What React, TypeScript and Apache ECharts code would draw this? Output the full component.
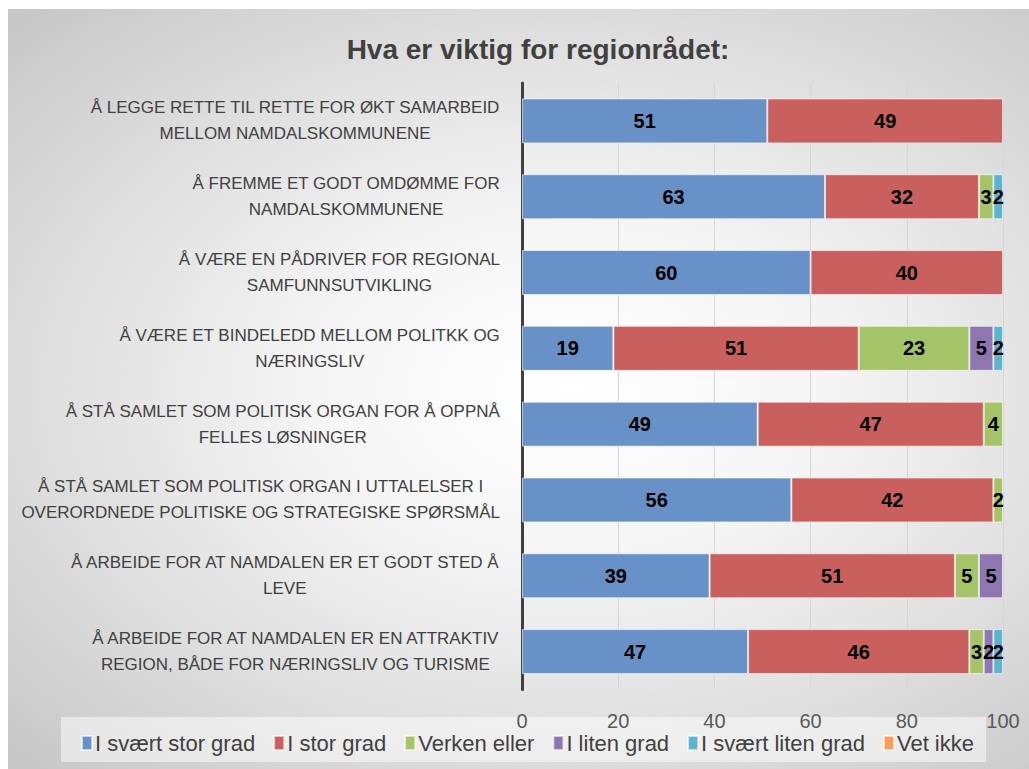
import React, { useEffect, useRef } from "react";
import * as echarts from "echarts";

const categories = [
  "Å LEGGE RETTE TIL RETTE FOR ØKT SAMARBEID\nMELLOM NAMDALSKOMMUNENE",
  "Å FREMME ET GODT OMDØMME FOR\nNAMDALSKOMMUNENE",
  "Å VÆRE EN PÅDRIVER FOR REGIONAL\nSAMFUNNSUTVIKLING",
  "Å VÆRE ET BINDELEDD MELLOM POLITKK OG\nNÆRINGSLIV",
  "Å STÅ SAMLET SOM POLITISK ORGAN FOR Å OPPNÅ\nFELLES LØSNINGER",
  "Å STÅ SAMLET SOM POLITISK ORGAN I UTTALELSER I\nOVERORDNEDE POLITISKE OG STRATEGISKE SPØRSMÅL",
  "Å ARBEIDE FOR AT NAMDALEN ER ET GODT STED Å\nLEVE",
  "Å ARBEIDE FOR AT NAMDALEN ER EN ATTRAKTIV\nREGION, BÅDE FOR NÆRINGSLIV OG TURISME",
];

const seriesNames = [
  "I svært stor grad",
  "I stor grad",
  "Verken eller",
  "I liten grad",
  "I svært liten grad",
  "Vet ikke",
];

const sværtStor = [51, 63, 60, 19, 49, 56, 39, 47];
const stor = [49, 32, 40, 51, 47, 42, 51, 46];
const verken = [0, 3, 0, 23, 4, 2, 5, 3];
const liten = [0, 0, 0, 5, 0, 0, 5, 2];
const sværtLiten = [0, 2, 0, 2, 0, 0, 0, 2];
const vetIkke = [0, 0, 0, 0, 0, 0, 0, 0];

const xTicks = { min: 0, max: 100, interval: 20 };

const colors = ["#6892c7", "#c9605e", "#a5c467", "#8e76b0", "#5cb4d0", "#f89c57"];

const FONT = "Liberation Sans";

export default function App() {
  const ref = useRef<HTMLDivElement>(null);
  useEffect(() => {
    if (!ref.current) return;
    const chart = echarts.init(ref.current, null, { renderer: "svg" });
    const values = [sværtStor, stor, verken, liten, sværtLiten, vetIkke];
    chart.setOption({
      animation: false,
      backgroundColor: "transparent",
      title: {
        text: "Hva er viktig for regionrådet:",
        left: 533,
        top: 30,
        textAlign: "center",
        textStyle: {
          fontFamily: FONT,
          fontSize: 28,
          fontWeight: "bold",
          color: "#404040",
        },
      },
      graphic: [
        {
          type: "rect",
          shape: { x: 61, y: 717, width: 925, height: 45 },
          style: { fill: "rgba(255,255,255,0.5)" },
          z: -1,
          silent: true,
        },
      ],
      legend: {
        data: seriesNames,
        left: 76,
        top: 727,
        itemWidth: 10,
        itemHeight: 14,
        itemGap: 18,
        icon: "rect",
        textStyle: {
          fontFamily: FONT,
          fontSize: 22,
          color: "#404040",
          padding: [0, 0, 0, -2],
        },
      },
      grid: { left: 522, right: 26, top: 83, bottom: 79.5, containLabel: false },
      xAxis: {
        type: "value",
        min: xTicks.min,
        max: xTicks.max,
        interval: xTicks.interval,
        axisLine: { show: false },
        axisTick: { show: false },
        axisLabel: {
          margin: 21,
          fontFamily: FONT,
          fontSize: 20,
          color: "#595959",
        },
        splitLine: { lineStyle: { color: "#d6d6d6", width: 1 } },
      },
      yAxis: {
        type: "category",
        inverse: true,
        data: categories,
        axisLine: { show: true, lineStyle: { color: "#404040", width: 3 } },
        axisTick: { show: false },
        axisLabel: {
          margin: 22,
          fontFamily: FONT,
          fontSize: 17,
          lineHeight: 26,
          color: "#404040",
          align: "right",
          formatter: (v: string) =>
            v
              .split("\n")
              .map((l) => `{c|${l}}`)
              .join("\n"),
          rich: {
            c: {
              align: "center",
              fontFamily: FONT,
              fontSize: 17,
              lineHeight: 26,
              color: "#404040",
            },
          },
        },
      },
      series: seriesNames.map((name, i) => ({
        name,
        type: "bar",
        stack: "total",
        barWidth: 45,
        data: values[i].map((v) => (v === 0 ? "-" : v)),
        itemStyle: {
          color: colors[i],
          borderColor: "rgba(255,255,255,0.6)",
          borderWidth: 1,
        },
        label: {
          show: true,
          position: "inside",
          fontFamily: FONT,
          fontSize: 20,
          fontWeight: "bold",
          color: "#000000",
          formatter: (p: any) => (p.value && p.value !== "-" ? String(p.value) : ""),
        },
      })),
    });
    return () => chart.dispose();
  }, []);
  return (
    <div
      style={{
        position: "absolute",
        left: 0,
        top: 0,
        width: 1029,
        height: 769,
        background: "#ffffff",
        overflow: "hidden",
      }}
    >
      <div
        style={{
          position: "absolute",
          left: 8,
          top: 9,
          width: 1021,
          height: 760,
          background:
            "radial-gradient(ellipse farthest-corner at 55% 50%, #ffffff 0%, #f6f6f6 30%, #dfdfdf 65%, #c6c6c6 100%)",
        }}
      />
      <div
        ref={ref}
        style={{ position: "absolute", left: 0, top: 0, width: 1029, height: 769 }}
      />
    </div>
  );
}
